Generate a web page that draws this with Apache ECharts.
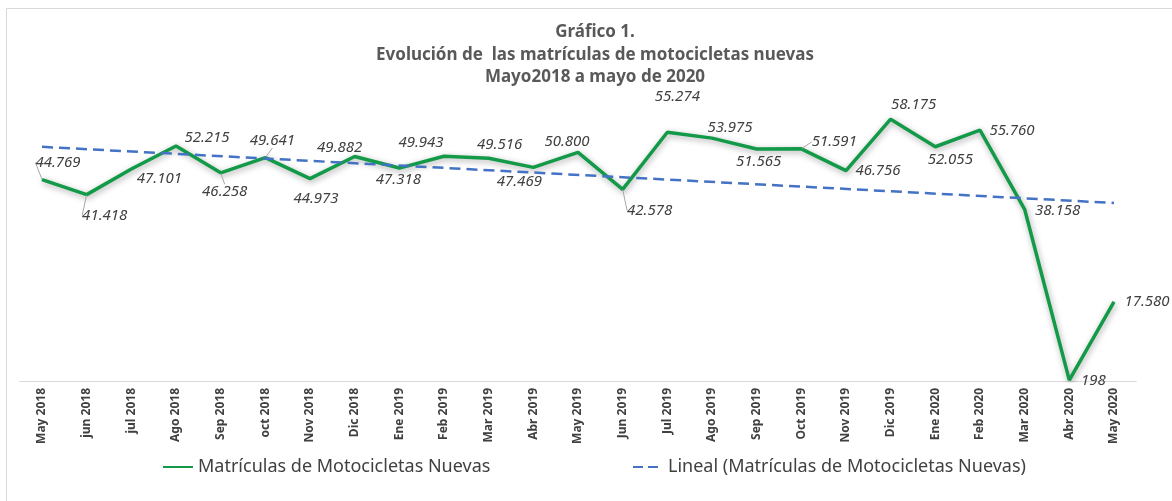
<!DOCTYPE html>
<html>
<head>
<meta charset="utf-8">
<script src="https://cdn.jsdelivr.net/npm/echarts@6/dist/echarts.min.js"></script>
<style>
  html, body { margin: 0; padding: 0; background: #fff; }
  #chart { width: 1172px; height: 501px; }
</style>
</head>
<body>
<div id="chart"></div>
<script>
const months = ['May 2018', 'jun 2018', 'jul 2018', 'Ago 2018', 'Sep 2018', 'oct 2018', 'Nov 2018', 'Dic 2018',
  'Ene 2019', 'Feb 2019', 'Mar 2019', 'Abr 2019', 'May 2019', 'Jun 2019', 'Jul 2019', 'Ago 2019', 'Sep 2019',
  'Oct 2019', 'Nov 2019', 'Dic 2019', 'Ene 2020', 'Feb 2020', 'Mar 2020', 'Abr 2020', 'May 2020'];
const matriculas = [44769, 41418, 47101, 52215, 46258, 49641, 44973, 49882, 47318, 49943, 49516, 47469, 50800,
  42578, 55274, 53975, 51565, 51591, 46756, 58175, 52055, 55760, 38158, 198, 17580];
// linear trend, read at both ends of the dashed line
const trendEnds = [52040, 39560];

const seriesName = 'Matrículas de Motocicletas Nuevas';
const trendName = 'Lineal (Matrículas de Motocicletas Nuevas)';

// label offsets from each point (px), like the hand-placed Excel labels
const labelOffsets = [[16, -17], [18, 21], [28, 10], [31, -8], [4, 19], [7, -17], [6, 20], [-15, -9],
  [-1, 12], [-23, -14], [11, -13], [-14, 14], [-11, -11], [27, 21], [10, -36], [18, -10], [2, 13],
  [33, -7], [32, 0], [23, -14], [15, 13], [32, 1], [33, 1], [24, 1], [33, 0]];
const withLeader = [0, 1, 4, 5, 13, 17];

const fmt = v => v >= 1000 ? Math.floor(v / 1000) + '.' + String(v % 1000).padStart(3, '0') : String(v);

const trendData = months.map((m, i) => i === 0 ? trendEnds[0] : (i === months.length - 1 ? trendEnds[1] : null));

const chart = echarts.init(document.getElementById('chart'));
chart.setOption({
  animation: false,
  textStyle: { fontFamily: 'Noto Sans' },
  title: {
    left: 595,
    top: 21,
    padding: 0,
    textAlign: 'center',
    text: 'Gráfico 1.\nEvolución de  las matrículas de motocicletas nuevas\nMayo2018 a mayo de 2020',
    textStyle: { color: '#595959', fontSize: 17, fontWeight: 'bold', lineHeight: 22.5, fontFamily: 'Noto Sans' }
  },
  graphic: [{
    type: 'rect',
    shape: { x: 6.5, y: 8.5, width: 1190, height: 510 },
    style: { fill: 'none', stroke: '#d9d9d9', lineWidth: 1 },
    silent: true
  }],
  legend: [
    {
      data: [seriesName], left: 157, top: 453, itemWidth: 30, itemHeight: 14,
      itemStyle: { opacity: 0 },
      textStyle: { color: '#404040', fontSize: 18 }
    },
    {
      data: [trendName], left: 627, top: 453, itemWidth: 30, itemHeight: 14,
      itemStyle: { opacity: 0 },
      lineStyle: { type: [10, 5] },
      textStyle: { color: '#404040', fontSize: 18 }
    }
  ],
  grid: { left: 19.7, right: 35.7, top: 66, bottom: 120 },
  xAxis: {
    type: 'category',
    data: months,
    boundaryGap: true,
    axisLine: { lineStyle: { color: '#d9d9d9', width: 1 } },
    axisTick: { show: false },
    axisLabel: { rotate: 90, interval: 0, margin: 7, fontSize: 12, fontWeight: 'bold', color: '#404040' }
  },
  yAxis: { type: 'value', min: 0, max: 70000, show: false },
  series: [
    {
      name: seriesName,
      type: 'line',
      data: matriculas.map((v, i) => withLeader.includes(i)
        ? { value: v, labelLine: { show: true, lineStyle: { color: '#a6a6a6', width: 1 } } }
        : v),
      symbol: 'circle',
      symbolSize: 1,
      showSymbol: true,
      itemStyle: { color: '#139a48' },
      lineStyle: {
        color: '#139a48', width: 3.5,
        shadowColor: 'rgba(0,0,0,0.35)', shadowBlur: 6, shadowOffsetX: 1, shadowOffsetY: 2
      },
      label: {
        show: true,
        position: 'inside',
        formatter: p => fmt(p.value),
        color: '#404040',
        fontSize: 15,
        fontStyle: 'italic'
      },
      labelLine: { show: false },
      labelLayout: p => ({ dx: labelOffsets[p.dataIndex][0], dy: labelOffsets[p.dataIndex][1] }),
      z: 2
    },
    {
      name: trendName,
      type: 'line',
      data: trendData,
      connectNulls: true,
      showSymbol: false,
      symbol: 'none',
      itemStyle: { color: '#4472c4' },
      lineStyle: { color: '#4472c4', width: 2.5, type: [11, 6] },
      z: 3
    }
  ]
});
</script>
</body>
</html>
